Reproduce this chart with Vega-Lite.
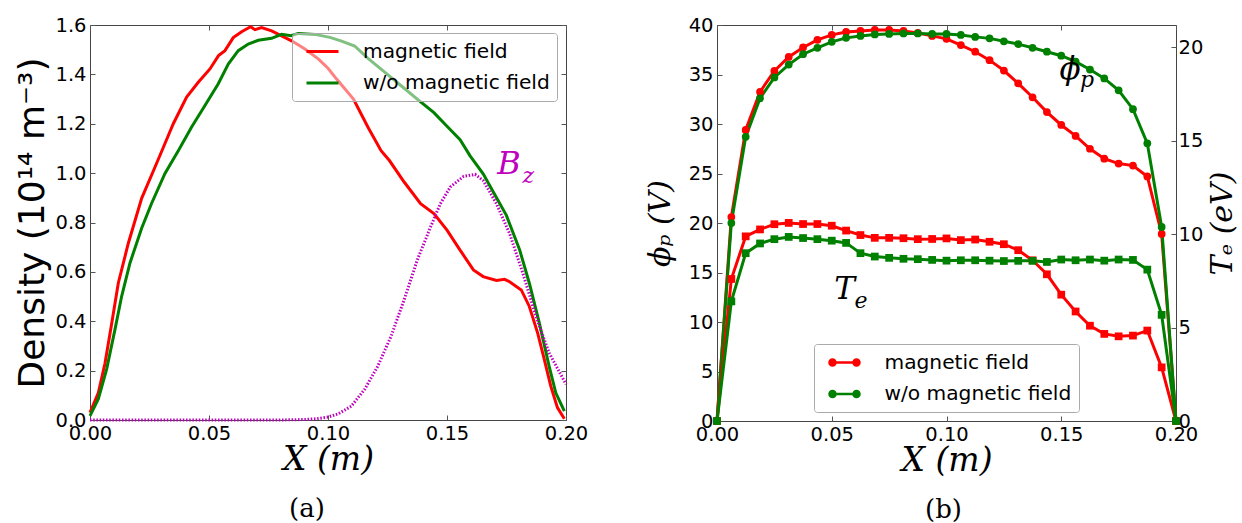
{
  "$schema": "https://vega.github.io/schema/vega-lite/v6.json",
  "background": "white",
  "padding": {"left": 14, "top": 14, "right": 0, "bottom": 0},
  "spacing": 55,
  "config": {
    "view": {"stroke": "#444444", "strokeWidth": 1},
    "axis": {
      "labelFont": "DejaVu Sans", "labelFontSize": 19.5, "labelColor": "black",
      "tickColor": "#555555", "tickSize": -5, "tickWidth": 1, "labelPadding": 9,
      "domain": false, "grid": false, "labelOverlap": false, "labelBound": false, "labelFlush": false,
      "titleColor": "black", "titleFontWeight": "normal"
    },
    "legend": {
      "title": null, "labelFont": "DejaVu Sans", "labelFontSize": 20.2, "labelColor": "black",
      "padding": 7, "rowPadding": 9.5, "strokeColor": "#aaaaaa", "fillColor": "rgba(255,255,255,0.5)",
      "cornerRadius": 3, "labelLimit": 400, "symbolSize": 400, "symbolOffset": 12
    },
    "title": {"font": "DejaVu Serif", "fontSize": 26, "fontWeight": "normal", "color": "black", "orient": "bottom", "anchor": "middle"}
  },
  "datasets": {
    "dens": [
      {"x": 0, "n": 0.03, "series": "magnetic field"},
      {"x": 0.0035, "n": 0.11, "series": "magnetic field"},
      {"x": 0.0063, "n": 0.23, "series": "magnetic field"},
      {"x": 0.0091, "n": 0.39, "series": "magnetic field"},
      {"x": 0.0119, "n": 0.555, "series": "magnetic field"},
      {"x": 0.0161, "n": 0.716, "series": "magnetic field"},
      {"x": 0.0217, "n": 0.898, "series": "magnetic field"},
      {"x": 0.028, "n": 1.04, "series": "magnetic field"},
      {"x": 0.0315, "n": 1.12, "series": "magnetic field"},
      {"x": 0.035, "n": 1.2, "series": "magnetic field"},
      {"x": 0.0406, "n": 1.308, "series": "magnetic field"},
      {"x": 0.0455, "n": 1.368, "series": "magnetic field"},
      {"x": 0.0504, "n": 1.422, "series": "magnetic field"},
      {"x": 0.054, "n": 1.476, "series": "magnetic field"},
      {"x": 0.0567, "n": 1.496, "series": "magnetic field"},
      {"x": 0.0602, "n": 1.549, "series": "magnetic field"},
      {"x": 0.0637, "n": 1.573, "series": "magnetic field"},
      {"x": 0.0675, "n": 1.593, "series": "magnetic field"},
      {"x": 0.0693, "n": 1.581, "series": "magnetic field"},
      {"x": 0.0721, "n": 1.59, "series": "magnetic field"},
      {"x": 0.0763, "n": 1.576, "series": "magnetic field"},
      {"x": 0.0805, "n": 1.556, "series": "magnetic field"},
      {"x": 0.0847, "n": 1.536, "series": "magnetic field"},
      {"x": 0.0903, "n": 1.503, "series": "magnetic field"},
      {"x": 0.0959, "n": 1.463, "series": "magnetic field"},
      {"x": 0.1, "n": 1.425, "series": "magnetic field"},
      {"x": 0.1037, "n": 1.38, "series": "magnetic field"},
      {"x": 0.1107, "n": 1.3, "series": "magnetic field"},
      {"x": 0.1168, "n": 1.186, "series": "magnetic field"},
      {"x": 0.1223, "n": 1.091, "series": "magnetic field"},
      {"x": 0.1258, "n": 1.051, "series": "magnetic field"},
      {"x": 0.132, "n": 0.964, "series": "magnetic field"},
      {"x": 0.1389, "n": 0.876, "series": "magnetic field"},
      {"x": 0.1445, "n": 0.836, "series": "magnetic field"},
      {"x": 0.15, "n": 0.769, "series": "magnetic field"},
      {"x": 0.1555, "n": 0.688, "series": "magnetic field"},
      {"x": 0.1611, "n": 0.608, "series": "magnetic field"},
      {"x": 0.1652, "n": 0.581, "series": "magnetic field"},
      {"x": 0.1708, "n": 0.565, "series": "magnetic field"},
      {"x": 0.1742, "n": 0.57, "series": "magnetic field"},
      {"x": 0.1763, "n": 0.56, "series": "magnetic field"},
      {"x": 0.1812, "n": 0.527, "series": "magnetic field"},
      {"x": 0.1846, "n": 0.46, "series": "magnetic field"},
      {"x": 0.1881, "n": 0.352, "series": "magnetic field"},
      {"x": 0.1909, "n": 0.245, "series": "magnetic field"},
      {"x": 0.1936, "n": 0.137, "series": "magnetic field"},
      {"x": 0.1964, "n": 0.05, "series": "magnetic field"},
      {"x": 0.1993, "n": 0.005, "series": "magnetic field"},
      {"x": 0, "n": 0.017, "series": "w/o magnetic field"},
      {"x": 0.0035, "n": 0.085, "series": "w/o magnetic field"},
      {"x": 0.007, "n": 0.206, "series": "w/o magnetic field"},
      {"x": 0.0105, "n": 0.367, "series": "w/o magnetic field"},
      {"x": 0.0133, "n": 0.501, "series": "w/o magnetic field"},
      {"x": 0.0168, "n": 0.636, "series": "w/o magnetic field"},
      {"x": 0.0217, "n": 0.777, "series": "w/o magnetic field"},
      {"x": 0.0259, "n": 0.878, "series": "w/o magnetic field"},
      {"x": 0.0315, "n": 0.999, "series": "w/o magnetic field"},
      {"x": 0.0371, "n": 1.091, "series": "w/o magnetic field"},
      {"x": 0.0427, "n": 1.187, "series": "w/o magnetic field"},
      {"x": 0.0483, "n": 1.274, "series": "w/o magnetic field"},
      {"x": 0.0539, "n": 1.362, "series": "w/o magnetic field"},
      {"x": 0.0581, "n": 1.442, "series": "w/o magnetic field"},
      {"x": 0.0623, "n": 1.496, "series": "w/o magnetic field"},
      {"x": 0.0665, "n": 1.523, "series": "w/o magnetic field"},
      {"x": 0.0707, "n": 1.538, "series": "w/o magnetic field"},
      {"x": 0.0763, "n": 1.546, "series": "w/o magnetic field"},
      {"x": 0.0805, "n": 1.562, "series": "w/o magnetic field"},
      {"x": 0.0845, "n": 1.557, "series": "w/o magnetic field"},
      {"x": 0.0875, "n": 1.566, "series": "w/o magnetic field"},
      {"x": 0.0945, "n": 1.562, "series": "w/o magnetic field"},
      {"x": 0.1008, "n": 1.55, "series": "w/o magnetic field"},
      {"x": 0.1057, "n": 1.535, "series": "w/o magnetic field"},
      {"x": 0.1112, "n": 1.515, "series": "w/o magnetic field"},
      {"x": 0.1168, "n": 1.465, "series": "w/o magnetic field"},
      {"x": 0.1237, "n": 1.41, "series": "w/o magnetic field"},
      {"x": 0.1306, "n": 1.355, "series": "w/o magnetic field"},
      {"x": 0.1375, "n": 1.3, "series": "w/o magnetic field"},
      {"x": 0.1445, "n": 1.245, "series": "w/o magnetic field"},
      {"x": 0.15, "n": 1.19, "series": "w/o magnetic field"},
      {"x": 0.1555, "n": 1.135, "series": "w/o magnetic field"},
      {"x": 0.1597, "n": 1.07, "series": "w/o magnetic field"},
      {"x": 0.1652, "n": 0.997, "series": "w/o magnetic field"},
      {"x": 0.1694, "n": 0.925, "series": "w/o magnetic field"},
      {"x": 0.1749, "n": 0.83, "series": "w/o magnetic field"},
      {"x": 0.1805, "n": 0.69, "series": "w/o magnetic field"},
      {"x": 0.1846, "n": 0.554, "series": "w/o magnetic field"},
      {"x": 0.1888, "n": 0.392, "series": "w/o magnetic field"},
      {"x": 0.1929, "n": 0.218, "series": "w/o magnetic field"},
      {"x": 0.1957, "n": 0.11, "series": "w/o magnetic field"},
      {"x": 0.1993, "n": 0.036, "series": "w/o magnetic field"}
    ],
    "bz": [
      {"x": 0, "n": 0.0}, {"x": 0.05, "n": 0.0}, {"x": 0.08, "n": 0.0}, {"x": 0.09, "n": 0.002},
      {"x": 0.095, "n": 0.005}, {"x": 0.1, "n": 0.012}, {"x": 0.1043, "n": 0.025}, {"x": 0.1098, "n": 0.056},
      {"x": 0.1154, "n": 0.124}, {"x": 0.1209, "n": 0.218}, {"x": 0.1265, "n": 0.339}, {"x": 0.132, "n": 0.487},
      {"x": 0.1375, "n": 0.648}, {"x": 0.1431, "n": 0.782}, {"x": 0.1472, "n": 0.876}, {"x": 0.1514, "n": 0.944},
      {"x": 0.157, "n": 0.987}, {"x": 0.1618, "n": 0.995}, {"x": 0.1652, "n": 0.97}, {"x": 0.1708, "n": 0.876},
      {"x": 0.1763, "n": 0.755}, {"x": 0.1819, "n": 0.594}, {"x": 0.1874, "n": 0.419}, {"x": 0.1929, "n": 0.272},
      {"x": 0.2, "n": 0.145}
    ],
    "annA": [{"x": 0.176, "n": 0.997, "t": "B"}],
    "annAsub": [{"x": 0.1842, "n": 0.962, "t": "z"}],
    "annB": [{"x": 0.1538, "v": 34.5, "t": "ϕ"}, {"x": 0.0556, "v": 12.36, "t": "T"}],
    "annBsub": [{"x": 0.1612, "v": 33.7, "t": "p"}, {"x": 0.0628, "v": 11.4, "t": "e"}],
    "pb": [
      {"x": 0, "series": "magnetic field", "phi": 0, "te": 0},
      {"x": 0.00625, "series": "magnetic field", "phi": 20.6, "te": 7.6},
      {"x": 0.0125, "series": "magnetic field", "phi": 29.4, "te": 9.88},
      {"x": 0.01875, "series": "magnetic field", "phi": 33.25, "te": 10.25},
      {"x": 0.025, "series": "magnetic field", "phi": 35.36, "te": 10.53},
      {"x": 0.03125, "series": "magnetic field", "phi": 36.78, "te": 10.6},
      {"x": 0.0375, "series": "magnetic field", "phi": 37.73, "te": 10.54},
      {"x": 0.04375, "series": "magnetic field", "phi": 38.5, "te": 10.54},
      {"x": 0.05, "series": "magnetic field", "phi": 39.0, "te": 10.45},
      {"x": 0.05625, "series": "magnetic field", "phi": 39.3, "te": 10.19},
      {"x": 0.0625, "series": "magnetic field", "phi": 39.4, "te": 9.95},
      {"x": 0.06875, "series": "magnetic field", "phi": 39.5, "te": 9.8},
      {"x": 0.075, "series": "magnetic field", "phi": 39.5, "te": 9.8},
      {"x": 0.08125, "series": "magnetic field", "phi": 39.4, "te": 9.78},
      {"x": 0.0875, "series": "magnetic field", "phi": 39.2, "te": 9.73},
      {"x": 0.09375, "series": "magnetic field", "phi": 38.9, "te": 9.74},
      {"x": 0.1, "series": "magnetic field", "phi": 38.6, "te": 9.77},
      {"x": 0.10625, "series": "magnetic field", "phi": 37.97, "te": 9.68},
      {"x": 0.1125, "series": "magnetic field", "phi": 37.3, "te": 9.71},
      {"x": 0.11875, "series": "magnetic field", "phi": 36.45, "te": 9.59},
      {"x": 0.125, "series": "magnetic field", "phi": 35.4, "te": 9.46},
      {"x": 0.13125, "series": "magnetic field", "phi": 34.1, "te": 9.14},
      {"x": 0.1375, "series": "magnetic field", "phi": 32.7, "te": 8.6},
      {"x": 0.14375, "series": "magnetic field", "phi": 31.2, "te": 7.85},
      {"x": 0.15, "series": "magnetic field", "phi": 29.9, "te": 6.76},
      {"x": 0.15625, "series": "magnetic field", "phi": 28.8, "te": 5.86},
      {"x": 0.1625, "series": "magnetic field", "phi": 27.5, "te": 5.1},
      {"x": 0.16875, "series": "magnetic field", "phi": 26.5, "te": 4.66},
      {"x": 0.175, "series": "magnetic field", "phi": 26.0, "te": 4.53},
      {"x": 0.18125, "series": "magnetic field", "phi": 25.8, "te": 4.57},
      {"x": 0.1875, "series": "magnetic field", "phi": 24.7, "te": 4.84},
      {"x": 0.19375, "series": "magnetic field", "phi": 18.9, "te": 2.87},
      {"x": 0.2, "series": "magnetic field", "phi": 0, "te": 0},
      {"x": 0, "series": "w/o magnetic field", "phi": 0, "te": 0},
      {"x": 0.00625, "series": "w/o magnetic field", "phi": 20.0, "te": 6.4},
      {"x": 0.0125, "series": "w/o magnetic field", "phi": 28.7, "te": 8.98},
      {"x": 0.01875, "series": "w/o magnetic field", "phi": 32.6, "te": 9.5},
      {"x": 0.025, "series": "w/o magnetic field", "phi": 34.7, "te": 9.73},
      {"x": 0.03125, "series": "w/o magnetic field", "phi": 36.0, "te": 9.85},
      {"x": 0.0375, "series": "w/o magnetic field", "phi": 37.05, "te": 9.79},
      {"x": 0.04375, "series": "w/o magnetic field", "phi": 37.7, "te": 9.73},
      {"x": 0.05, "series": "w/o magnetic field", "phi": 38.3, "te": 9.65},
      {"x": 0.05625, "series": "w/o magnetic field", "phi": 38.7, "te": 9.53},
      {"x": 0.0625, "series": "w/o magnetic field", "phi": 38.9, "te": 8.98},
      {"x": 0.06875, "series": "w/o magnetic field", "phi": 39.05, "te": 8.8},
      {"x": 0.075, "series": "w/o magnetic field", "phi": 39.1, "te": 8.73},
      {"x": 0.08125, "series": "w/o magnetic field", "phi": 39.15, "te": 8.68},
      {"x": 0.0875, "series": "w/o magnetic field", "phi": 39.15, "te": 8.66},
      {"x": 0.09375, "series": "w/o magnetic field", "phi": 39.1, "te": 8.62},
      {"x": 0.1, "series": "w/o magnetic field", "phi": 39.1, "te": 8.58},
      {"x": 0.10625, "series": "w/o magnetic field", "phi": 39.0, "te": 8.6},
      {"x": 0.1125, "series": "w/o magnetic field", "phi": 38.8, "te": 8.6},
      {"x": 0.11875, "series": "w/o magnetic field", "phi": 38.65, "te": 8.58},
      {"x": 0.125, "series": "w/o magnetic field", "phi": 38.35, "te": 8.56},
      {"x": 0.13125, "series": "w/o magnetic field", "phi": 38.07, "te": 8.57},
      {"x": 0.1375, "series": "w/o magnetic field", "phi": 37.7, "te": 8.57},
      {"x": 0.14375, "series": "w/o magnetic field", "phi": 37.3, "te": 8.51},
      {"x": 0.15, "series": "w/o magnetic field", "phi": 36.9, "te": 8.64},
      {"x": 0.15625, "series": "w/o magnetic field", "phi": 36.3, "te": 8.6},
      {"x": 0.1625, "series": "w/o magnetic field", "phi": 35.5, "te": 8.64},
      {"x": 0.16875, "series": "w/o magnetic field", "phi": 34.6, "te": 8.58},
      {"x": 0.175, "series": "w/o magnetic field", "phi": 33.4, "te": 8.64},
      {"x": 0.18125, "series": "w/o magnetic field", "phi": 31.5, "te": 8.62},
      {"x": 0.1875, "series": "w/o magnetic field", "phi": 28.05, "te": 8.1},
      {"x": 0.19375, "series": "w/o magnetic field", "phi": 19.6, "te": 5.68},
      {"x": 0.2, "series": "w/o magnetic field", "phi": 0, "te": 0}
    ]
  },
  "hconcat": [
    {
      "width": 476,
      "height": 395,
      "title": {"text": "(a)", "dx": -21, "offset": 19},
      "layer": [
        {
          "data": {"name": "dens"},
          "mark": {"type": "line", "strokeWidth": 3},
          "encoding": {
            "x": {"field": "x", "type": "quantitative", "scale": {"domain": [0, 0.2], "nice": false},
                  "axis": {"values": [0, 0.05, 0.1, 0.15, 0.2], "format": ".2f", "title": "X (m)",
                           "titleFont": "DejaVu Serif", "titleFontStyle": "italic", "titleFontSize": 33, "titlePadding": 1}},
            "y": {"field": "n", "type": "quantitative", "scale": {"domain": [0, 1.6], "nice": false},
                  "axis": {"values": [0, 0.2, 0.4, 0.6, 0.8, 1.0, 1.2, 1.4, 1.6], "format": ".1f",
                           "title": "Density (10¹⁴ m⁻³)", "titleFont": "DejaVu Sans", "titleFontSize": 36, "titlePadding": 3}},
            "color": {"field": "series", "type": "nominal",
                      "scale": {"domain": ["magnetic field", "w/o magnetic field"], "range": ["#ff0000", "#008000"]},
                      "legend": {"orient": "none", "legendX": 202, "legendY": 8, "symbolType": "M-1.6,0L1.6,0",
                                 "symbolStrokeWidth": 3, "labelOffset": 29}}
          }
        },
        {
          "data": {"name": "bz"},
          "mark": {"type": "line", "color": "#bf00bf", "strokeWidth": 3, "strokeDash": [1.5, 1.7]},
          "encoding": {
            "x": {"field": "x", "type": "quantitative", "scale": {"domain": [0, 0.2], "nice": false},
                  "axis": {"orient": "top", "values": [0, 0.05, 0.1, 0.15, 0.2], "labels": false, "title": null}},
            "y": {"field": "n", "type": "quantitative", "scale": {"domain": [0, 1.6], "nice": false},
                  "axis": {"orient": "right", "values": [0, 0.2, 0.4, 0.6, 0.8, 1.0, 1.2, 1.4, 1.6], "labels": false, "title": null}}
          }
        },
        {
          "data": {"name": "annA"},
          "mark": {"type": "text", "font": "DejaVu Serif", "fontStyle": "italic", "fontSize": 32, "color": "#bf00bf", "align": "center", "baseline": "alphabetic"},
          "encoding": {
            "x": {"field": "x", "type": "quantitative", "scale": {"domain": [0, 0.2], "nice": false}, "axis": null},
            "y": {"field": "n", "type": "quantitative", "scale": {"domain": [0, 1.6], "nice": false}, "axis": null},
            "text": {"field": "t"}
          }
        },
        {
          "data": {"name": "annAsub"},
          "mark": {"type": "text", "font": "DejaVu Serif", "fontStyle": "italic", "fontSize": 22, "color": "#bf00bf", "align": "center", "baseline": "alphabetic"},
          "encoding": {
            "x": {"field": "x", "type": "quantitative", "scale": {"domain": [0, 0.2], "nice": false}, "axis": null},
            "y": {"field": "n", "type": "quantitative", "scale": {"domain": [0, 1.6], "nice": false}, "axis": null},
            "text": {"field": "t"}
          }
        }
      ],
      "resolve": {"scale": {"x": "independent", "y": "independent"}}
    },
    {
      "width": 459,
      "height": 396,
      "title": {"text": "(b)", "dx": -3, "offset": 19},
      "layer": [
        {
          "data": {"name": "pb"},
          "mark": {"type": "line", "strokeWidth": 3},
          "encoding": {
            "x": {"field": "x", "type": "quantitative", "scale": {"domain": [0, 0.2], "nice": false},
                  "axis": {"values": [0, 0.05, 0.1, 0.15, 0.2], "format": ".2f", "title": "X (m)",
                           "titleFont": "DejaVu Serif", "titleFontStyle": "italic", "titleFontSize": 33, "titlePadding": 1}},
            "y": {"field": "phi", "type": "quantitative", "scale": {"domain": [0, 40], "nice": false},
                  "axis": {"values": [0, 5, 10, 15, 20, 25, 30, 35, 40], "title": "ϕₚ (V)",
                           "titleFont": "DejaVu Serif", "titleFontStyle": "italic", "titleFontSize": 30, "titlePadding": 13}},
            "color": {"field": "series", "type": "nominal",
                      "scale": {"domain": ["magnetic field", "w/o magnetic field"], "range": ["#ff0000", "#008000"]},
                      "legend": {"orient": "none", "legendX": 97, "legendY": 319,
                                 "symbolType": "M-1.2,0L1.2,0M-1.5,0A0.3,0.3 0 1,0 -0.9,0A0.3,0.3 0 1,0 -1.5,0ZM0.9,0A0.3,0.3 0 1,0 1.5,0A0.3,0.3 0 1,0 0.9,0Z",
                                 "symbolStrokeWidth": 2.5, "labelOffset": 28.5,
                                 "encode": {"symbols": {"update": {"fill": {"signal": "datum.value === 'magnetic field' ? '#ff0000' : '#008000'"}}}}}}
          }
        },
        {
          "data": {"name": "pb"},
          "mark": {"type": "point", "shape": "circle", "filled": true, "size": 60, "opacity": 1},
          "encoding": {
            "x": {"field": "x", "type": "quantitative", "scale": {"domain": [0, 0.2], "nice": false}, "axis": null},
            "y": {"field": "phi", "type": "quantitative", "scale": {"domain": [0, 40], "nice": false}, "axis": null},
            "color": {"field": "series", "type": "nominal", "legend": null}
          }
        },
        {
          "data": {"name": "pb"},
          "mark": {"type": "line", "strokeWidth": 3},
          "encoding": {
            "x": {"field": "x", "type": "quantitative", "scale": {"domain": [0, 0.2], "nice": false},
                  "axis": {"orient": "top", "values": [0, 0.05, 0.1, 0.15, 0.2], "labels": false, "title": null}},
            "y": {"field": "te", "type": "quantitative", "scale": {"domain": [0, 21.19], "nice": false},
                  "axis": {"orient": "right", "values": [0, 5, 10, 15, 20], "title": "Tₑ (eV)", "labelPadding": 7,
                           "titleFont": "DejaVu Serif", "titleFontStyle": "italic", "titleFontSize": 30,
                           "titleAngle": 270, "titleBaseline": "top", "titlePadding": 5}},
            "color": {"field": "series", "type": "nominal", "legend": null}
          }
        },
        {
          "data": {"name": "pb"},
          "mark": {"type": "point", "shape": "square", "filled": true, "size": 60, "opacity": 1},
          "encoding": {
            "x": {"field": "x", "type": "quantitative", "scale": {"domain": [0, 0.2], "nice": false}, "axis": null},
            "y": {"field": "te", "type": "quantitative", "scale": {"domain": [0, 21.19], "nice": false}, "axis": null},
            "color": {"field": "series", "type": "nominal", "legend": null}
          }
        },
        {
          "data": {"name": "annB"},
          "mark": {"type": "text", "font": "DejaVu Serif", "fontStyle": "italic", "fontSize": 31, "color": "black", "align": "center", "baseline": "alphabetic"},
          "encoding": {
            "x": {"field": "x", "type": "quantitative", "scale": {"domain": [0, 0.2], "nice": false}, "axis": null},
            "y": {"field": "v", "type": "quantitative", "scale": {"domain": [0, 40], "nice": false}, "axis": null},
            "text": {"field": "t"}
          }
        },
        {
          "data": {"name": "annBsub"},
          "mark": {"type": "text", "font": "DejaVu Serif", "fontStyle": "italic", "fontSize": 22, "color": "black", "align": "center", "baseline": "alphabetic"},
          "encoding": {
            "x": {"field": "x", "type": "quantitative", "scale": {"domain": [0, 0.2], "nice": false}, "axis": null},
            "y": {"field": "v", "type": "quantitative", "scale": {"domain": [0, 40], "nice": false}, "axis": null},
            "text": {"field": "t"}
          }
        }
      ],
      "resolve": {"scale": {"x": "independent", "y": "independent"}}
    }
  ],
  "resolve": {"scale": {"color": "independent"}, "legend": {"color": "independent"}}
}
